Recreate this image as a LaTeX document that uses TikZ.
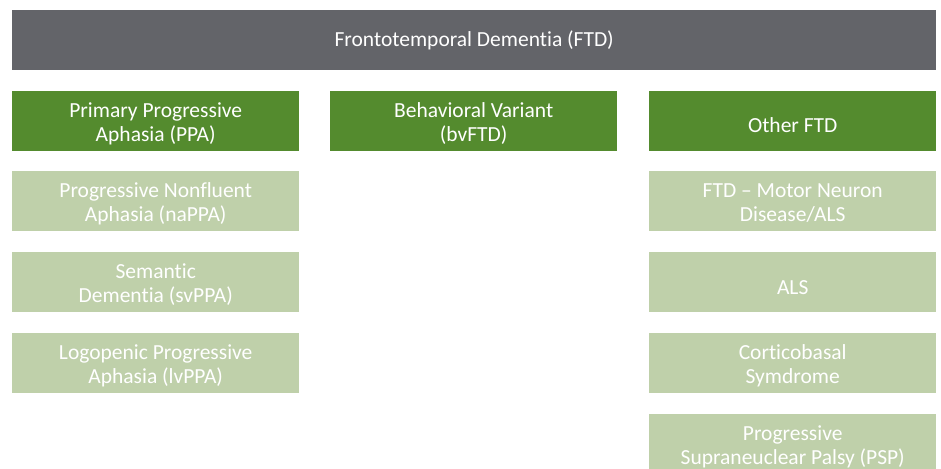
\documentclass[tikz,border=0pt]{standalone}
\usepackage{fontspec}
\setmainfont{Carlito}[RawFeature={-liga}]
\definecolor{topgray}{HTML}{636469}
\definecolor{darkgreen}{HTML}{548B2E}
\definecolor{lightgreen}{HTML}{BFD0AA}
\newcommand\lowtxt[2][3.5pt]{\raisebox{-#1}[\height][\depth]{\begin{tabular}{@{}c@{}}#2\end{tabular}}}
\begin{document}
\begin{tikzpicture}[x=1pt,y=-1pt,
  box/.style={draw=none,minimum width=287pt,minimum height=60pt,inner sep=0pt,
    text=white,font=\fontsize{21.5}{24}\selectfont,anchor=north west},
  headbox/.style={box,fill=darkgreen},
  subbox/.style={box,fill=lightgreen}]
\useasboundingbox (0,0) rectangle (941,468);
\clip (0,0) rectangle (941,468);
\node[box,fill=topgray,minimum width=924pt] (ftd) at (12,10) {\lowtxt[1.2pt]{Frontotemporal Dementia (FTD)}};
\node[headbox] (ppa) at (12,91) {\lowtxt{Primary Progressive\\Aphasia (PPA)}};
\node[headbox] (bv) at (330,91) {\lowtxt{Behavioral Variant\\(bvFTD)}};
\node[headbox] (other) at (649,91) {\lowtxt[7pt]{Other FTD}};
\node[subbox] (na) at (12,171) {\lowtxt{Progressive Nonfluent\\Aphasia (naPPA)}};
\node[subbox] (sv) at (12,252) {\lowtxt{Semantic\\Dementia (svPPA)}};
\node[subbox] (lv) at (12,333) {\lowtxt{Logopenic Progressive\\Aphasia (lvPPA)}};
\node[subbox] (mnd) at (649,171) {\lowtxt{FTD – Motor Neuron\\Disease/ALS}};
\node[subbox] (als) at (649,252) {\lowtxt[7pt]{ALS}};
\node[subbox] (cbs) at (649,333) {\lowtxt{Corticobasal\\Symdrome}};
\node[subbox] (psp) at (649,414) {\lowtxt{Progressive\\Supraneuclear Palsy (PSP)}};
\end{tikzpicture}
\end{document}
